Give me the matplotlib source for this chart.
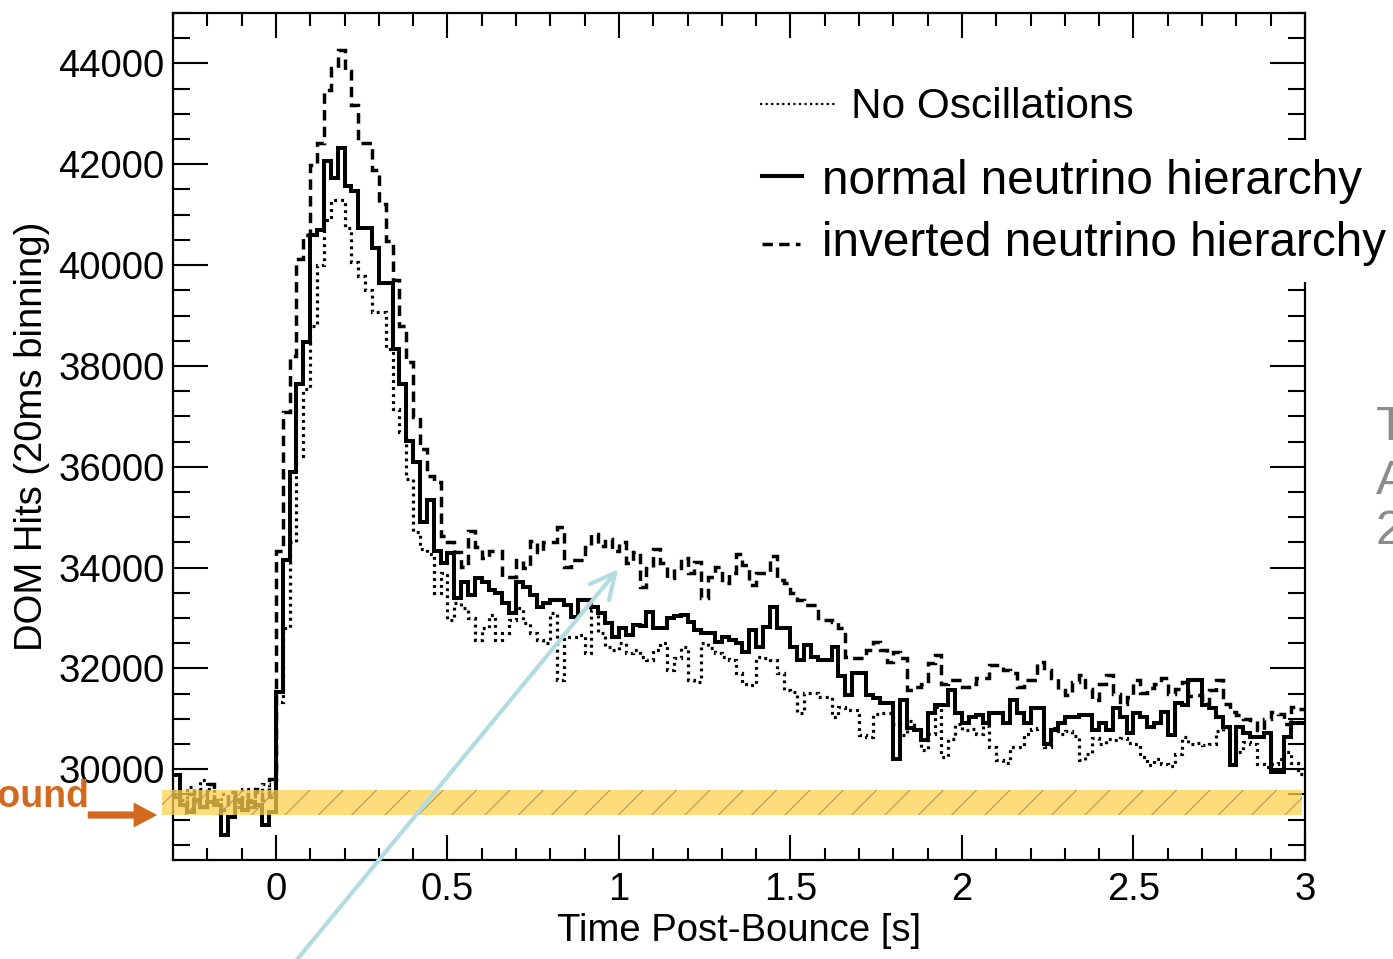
import matplotlib
matplotlib.use("Agg")
import matplotlib.pyplot as plt
import numpy as np
from matplotlib.patches import Rectangle, FancyArrowPatch
from matplotlib.lines import Line2D
from matplotlib.ticker import MultipleLocator, FuncFormatter

plt.rcParams['font.family'] = ['Liberation Sans', 'DejaVu Sans']

# 20 ms bins from -0.3 s to 3.0 s
t_start, t_stop, bin_w = -0.3, 3.0, 0.02

# pre-bounce bins (-0.3 .. 0 s)
pre_normal = [29880, 29300, 29150, 29400, 29250, 29350, 29300, 28690, 29050, 29400,
              29200, 29350, 29300, 28890, 29150]
pre_inverted = [29450, 29300, 29500, 29600, 29250, 29700, 29400, 29200, 29550, 29350,
                29500, 29250, 29600, 29400, 29800]
pre_no_osc = [29500, 29400, 29650, 29300, 29780, 29600, 29350, 29500, 29450, 29250,
              29600, 29400, 29550, 29700, 29450]

# post-bounce bins (0 .. 3 s)
post_normal = [
    31540, 34160, 35890, 37640, 38480, 40590, 40700, 42060, 41720, 42320,
    41560, 41460, 40730, 40730, 40330, 39650, 39650, 38340, 37640, 36510,
    36090, 34900, 35350, 34320, 34100, 34280, 33400, 33720, 33460, 33800,
    33720, 33560, 33500, 33300, 33100, 33720, 33620, 33460, 33220, 33300,
    33360, 33360, 33250, 33020, 33360, 33360, 33220, 33100, 32900, 32630,
    32800, 32670, 32870, 32850, 33120, 32800, 32800, 33000, 33030, 33060,
    32930, 32770, 32700, 32700, 32530, 32630, 32570, 32500, 32330, 32770,
    32430, 32830, 33220, 32800, 32800, 32430, 32170, 32470, 32230, 32170,
    32170, 32430, 31840, 31470, 31900, 31900, 31470, 31410, 31310, 31310,
    30210, 31370, 30810, 30780, 30580, 31110, 31270, 31270, 31570, 31110,
    30910, 31040, 31080, 30910, 31110, 31110, 30910, 31370, 31110, 30910,
    31210, 31210, 30510, 30780, 30910, 31040, 31040, 31080, 31080, 30780,
    30910, 30780, 31210, 31040, 30710, 31110, 31040, 30840, 30910, 31140,
    30680, 31310, 31270, 31770, 31770, 31270, 31210, 31040, 30840, 30080,
    30840, 30710, 30640, 30640, 30710, 29950, 29950, 30640, 30910, 30910]

post_inverted = [
    34320, 37080, 38200, 40130, 40600, 41980, 42420, 43470, 43910, 44270,
    43850, 43170, 42420, 42420, 41880, 41220, 40470, 39700, 38800, 38080,
    36990, 36350, 35810, 35700, 34620, 34500, 34300, 34020, 34720, 34400,
    34200, 34320, 34320, 33820, 33820, 34160, 34000, 34520, 34300, 34500,
    34500, 34800, 34020, 34160, 34160, 34400, 34660, 34420, 34560, 34320,
    34500, 34100, 34300, 33620, 34000, 34360, 34100, 33800, 34000, 34200,
    33900, 34120, 33400, 33820, 34020, 33700, 33900, 34260, 34060, 33660,
    33900, 33900, 34220, 33760, 33700, 33500, 33360, 33260, 33260, 32960,
    32960, 32920, 32800, 32230, 32200, 32200, 32370, 32530, 32370, 32130,
    32330, 32210, 31570, 31630, 31700, 32100, 32270, 31700, 31770, 31770,
    31630, 31700, 31810, 31810, 32070, 32070, 31970, 31900, 31630, 31770,
    31770, 32130, 31970, 31810, 31570, 31470, 31730, 31870, 31600, 31370,
    31700, 31870, 31500, 31300, 31430, 31770, 31510, 31610, 31700, 31810,
    31500, 31600, 31730, 31450, 31470, 31300, 31570, 31770, 31300, 31130,
    31070, 31000, 30970, 30780, 31000, 31130, 31100, 30900, 31230, 31200]

post_no_osc = [
    31340, 32800, 34500, 36210, 37540, 38800, 40000, 40890, 41290, 41290,
    40730, 40070, 39790, 39500, 39070, 39070, 38340, 37140, 36690, 35750,
    34700, 34360, 34260, 33500, 33900, 32960, 33300, 33200, 33000, 32570,
    32800, 33060, 32570, 32700, 32960, 33200, 32900, 32700, 32570, 32500,
    33100, 31770, 32630, 32630, 32670, 32300, 33160, 32700, 32430, 32370,
    32500, 32300, 32370, 32230, 32170, 32370, 32500, 31970, 32200, 32430,
    31770, 31730, 32500, 32400, 32300, 32230, 32170, 31900, 31700, 31680,
    32230, 32200, 32170, 31900, 31570, 31530, 31110, 31510, 31510, 31430,
    31430, 31030, 31230, 31170, 31170, 30680, 30640, 31100, 31110, 31110,
    30900, 30680, 30950, 30800, 30380, 30700, 31230, 30240, 30600, 30900,
    30780, 30800, 30700, 30850, 30440, 30180, 30120, 30440, 30440, 30700,
    30800, 30810, 30440, 30810, 30700, 30750, 30650, 30180, 30300, 30620,
    30500, 30600, 30580, 30620, 30520, 30500, 30250, 30080, 30200, 30100,
    30060, 30300, 30640, 30500, 30520, 30480, 30500, 30750, 30810, 30540,
    30350, 30550, 30500, 30110, 30040, 30110, 30200, 30350, 30120, 29900]

normal = np.array(pre_normal + post_normal)
inverted = np.array(pre_inverted + post_inverted)
no_osc = np.array(pre_no_osc + post_no_osc)
edges = t_start + bin_w * np.arange(len(normal) + 1)

legend_labels = ["No Oscillations", "normal neutrino hierarchy", "inverted neutrino hierarchy"]
bkg_lo, bkg_hi = 29085, 29582   # background band

W, H = 1393, 959
def px(x, y):
    return x / W, 1 - y / H

fig = plt.figure(figsize=(W / 100, H / 100), dpi=100)
ax = fig.add_axes([173 / W, 99 / H, 1132 / W, 847 / H])

ax.stairs(no_osc, edges, baseline=None, color='black', lw=2.3, linestyle=(0, (0.9, 1.3)), zorder=2)
ax.stairs(inverted, edges, baseline=None, color='black', lw=2.5, linestyle=(0, (3.0, 1.8)), zorder=2)
ax.stairs(normal, edges, baseline=None, color='black', lw=2.9, zorder=2)

# background band
ax.add_patch(Rectangle((-0.332, bkg_lo), 3.322, bkg_hi - bkg_lo, facecolor='#fdd24f',
                       edgecolor='none', alpha=0.75, clip_on=False, zorder=3))
plt.rcParams['hatch.linewidth'] = 0.8
ax.add_patch(Rectangle((-0.332, bkg_lo), 3.322, bkg_hi - bkg_lo, facecolor='none',
                       edgecolor='#b8955a', hatch='/', lw=0, clip_on=False, zorder=3))

ax.set_xlim(-0.3, 3.0)
ax.set_ylim(28200, 45000)
ax.xaxis.set_major_locator(MultipleLocator(0.5))
ax.xaxis.set_minor_locator(MultipleLocator(0.1))
ax.yaxis.set_major_locator(MultipleLocator(2000))
ax.yaxis.set_minor_locator(MultipleLocator(500))
ax.xaxis.set_major_formatter(FuncFormatter(lambda v, p: f"{v:g}"))
ax.tick_params(which='both', direction='in', top=True, right=True, width=1.5, labelsize=27.5)
ax.tick_params(axis='y', which='major', length=25, pad=6)
ax.tick_params(axis='y', which='minor', length=12)
ax.tick_params(axis='x', which='major', length=18, pad=9)
ax.tick_params(axis='x', which='minor', length=9)
for s in ax.spines.values():
    s.set_linewidth(1.6)

ax.set_xlabel("Time Post-Bounce [s]", fontsize=27.5, labelpad=3)
ax.set_ylabel("DOM Hits (20ms binning)", fontsize=27.5, labelpad=6)

# legend drawn by hand (covers part of the right frame)
fig.patches.append(Rectangle(px(745, 282), (W - 745) / W, 142 / H, transform=fig.transFigure,
                             facecolor='white', edgecolor='none', zorder=1))
fig.lines.append(Line2D([760 / W, 835 / W], [px(0, 104)[1]] * 2, transform=fig.transFigure,
                        color='black', lw=1.6, linestyle=(0, (1.0, 1.5)), zorder=2))
fig.lines.append(Line2D([762 / W, 802 / W], [px(0, 176)[1]] * 2, transform=fig.transFigure,
                        color='black', lw=2.9, zorder=2))
fig.lines.append(Line2D([762 / W, 800 / W], [px(0, 244)[1]] * 2, transform=fig.transFigure,
                        color='black', lw=2.5, linestyle=(0, (3.0, 1.8)), zorder=2))
fig.text(*px(851, 107), legend_labels[0], fontsize=30.5, va='center', ha='left', zorder=3)
fig.text(*px(822, 182), legend_labels[1], fontsize=34.3, va='center', ha='left', zorder=3)
fig.text(*px(822, 244), legend_labels[2], fontsize=34.3, va='center', ha='left', zorder=3)

# side annotations (cut off at the figure edges, as in the original slide)
for txt, y in [("T", 428), ("A", 481), ("2", 531)]:
    fig.text(*px(1376, y), txt, fontsize=35, color='#8c8c8c', va='center', ha='left')
orange = '#d2691e'
fig.text(*px(89, 797), "Background", fontsize=27, fontweight='bold', color=orange,
         va='center', ha='right')
fig.patches.append(FancyArrowPatch(px(85, 815), px(160, 815), transform=fig.transFigure,
                                   arrowstyle='simple,head_length=0.85,head_width=0.9,tail_width=0.26',
                                   mutation_scale=20, color=orange, lw=0, zorder=4))
fig.patches.append(FancyArrowPatch(px(295, 962), px(620, 567), transform=fig.transFigure,
                                   arrowstyle='->,head_length=0.9,head_width=0.45',
                                   mutation_scale=20, color='#b3dce0', lw=3.0, zorder=4))

fig.savefig("out.png", dpi=100)
